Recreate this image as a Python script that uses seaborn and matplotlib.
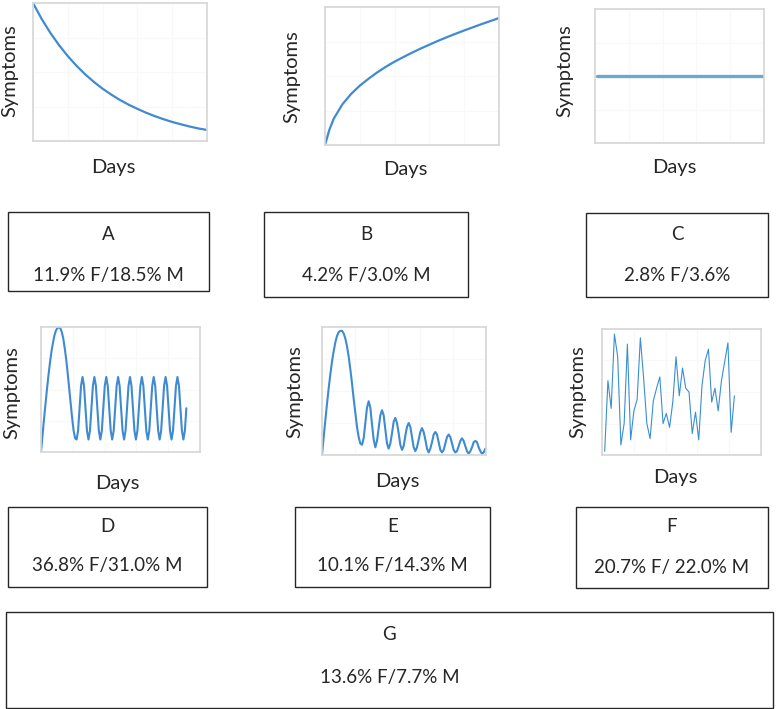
import numpy as np
import matplotlib.pyplot as plt
import seaborn as sns
from matplotlib.patches import Rectangle

W, H = 778, 709

# symptom curves, scaled 0..1 inside its frame
a_days = list(range(21))
a_symptoms = [1.000, 0.884, 0.783, 0.694, 0.615, 0.545, 0.483, 0.428, 0.379, 0.336, 0.297,
              0.263, 0.233, 0.205, 0.180, 0.158, 0.138, 0.121, 0.105, 0.091, 0.080]

b_days = [0, 0.5] + list(range(1, 21))
b_symptoms = [0.000, 0.110, 0.190, 0.295, 0.370, 0.430, 0.480, 0.526, 0.567, 0.604,
              0.637, 0.669, 0.699, 0.727, 0.755, 0.781, 0.806, 0.830, 0.853, 0.876,
              0.898, 0.920]

c_days = [0.012, 1.0]
c_symptoms = [0.50, 0.50]

d_days = list(range(99))
d_symptoms = [0.00, 0.13, 0.26, 0.38, 0.50, 0.61, 0.71, 0.80, 0.87, 0.93, 0.97, 0.99, 1.00,
              0.99, 0.96, 0.91, 0.83, 0.74, 0.63, 0.51, 0.39, 0.27, 0.17, 0.11, 0.10,
              0.17, 0.35, 0.53, 0.60, 0.53, 0.35, 0.17, 0.10,
              0.17, 0.35, 0.53, 0.60, 0.53, 0.35, 0.17, 0.10,
              0.17, 0.35, 0.53, 0.60, 0.53, 0.35, 0.17, 0.10,
              0.17, 0.35, 0.53, 0.60, 0.53, 0.35, 0.17, 0.10,
              0.17, 0.35, 0.53, 0.60, 0.53, 0.35, 0.17, 0.10,
              0.17, 0.35, 0.53, 0.60, 0.53, 0.35, 0.17, 0.10,
              0.17, 0.35, 0.53, 0.60, 0.53, 0.35, 0.17, 0.10,
              0.17, 0.35, 0.53, 0.60, 0.53, 0.35, 0.17, 0.10,
              0.17, 0.35, 0.53, 0.60, 0.53, 0.35, 0.17, 0.10,
              0.17, 0.35]

e_days = list(range(99))
e_symptoms = [0.00, 0.14, 0.27, 0.40, 0.52, 0.63, 0.73, 0.81, 0.88, 0.93, 0.96, 0.97, 0.97,
              0.95, 0.91, 0.85, 0.77, 0.67, 0.56, 0.44, 0.33, 0.22, 0.14, 0.09, 0.08,
              0.13, 0.25, 0.37, 0.42, 0.37, 0.24, 0.12, 0.06,
              0.11, 0.21, 0.31, 0.35, 0.31, 0.20, 0.09, 0.05,
              0.09, 0.17, 0.26, 0.29, 0.25, 0.17, 0.08, 0.04,
              0.07, 0.15, 0.22, 0.25, 0.22, 0.14, 0.06, 0.03,
              0.06, 0.12, 0.18, 0.21, 0.18, 0.12, 0.05, 0.02,
              0.05, 0.10, 0.16, 0.18, 0.16, 0.10, 0.04, 0.02,
              0.04, 0.09, 0.14, 0.16, 0.14, 0.09, 0.04, 0.02,
              0.03, 0.07, 0.11, 0.13, 0.11, 0.07, 0.03, 0.01,
              0.03, 0.06, 0.10, 0.11, 0.10, 0.06, 0.03, 0.01,
              0.02, 0.05]

f_days = list(range(41))
f_symptoms = [0.03, 0.59, 0.37, 0.96, 0.78, 0.08, 0.25, 0.88, 0.12, 0.35, 0.44,
              0.93, 0.61, 0.25, 0.13, 0.43, 0.53, 0.62, 0.25, 0.33, 0.22,
              0.42, 0.78, 0.47, 0.69, 0.53, 0.50, 0.17, 0.34, 0.12, 0.55,
              0.75, 0.84, 0.42, 0.53, 0.35, 0.59, 0.74, 0.89, 0.18, 0.47]

groups = ["A", "B", "C", "D", "E", "F", "G"]
rates = ["11.9% F/18.5% M", "4.2% F/3.0% M", "2.8% F/3.6%", "36.8% F/31.0% M",
         "10.1% F/14.3% M", "20.7% F/ 22.0% M", "13.6% F/7.7% M"]

sns.set_style("white")
plt.rcParams['font.family'] = ['Lato', 'DejaVu Sans']

fig = plt.figure(figsize=(W / 100, H / 100), dpi=100)


def px_axes(l, t, r, b):
    return fig.add_axes([l / W, 1 - b / H, (r - l) / W, (b - t) / H])


panels = [
    # frame in px, x, y, xlim, colour, width, ylabel centre, xlabel centre
    ((33, 3, 207, 141), a_days, a_symptoms, (0, 20), "#3f8bd2", 1.6, (10, 71), (113, 168)),
    ((325, 7, 499, 145), b_days, b_symptoms, (0, 20), "#3f8bd2", 1.6, (292, 77), (405, 170)),
    ((595, 9, 764, 143), c_days, c_symptoms, (0, 1), "#6fa9c9", 2.4, (565, 71), (674, 168)),
    ((41, 327, 200, 452), d_days, d_symptoms, (0, 107.2), "#3f8bd2", 1.5, (12, 393), (117, 484)),
    ((322, 327, 486, 455), e_days, e_symptoms, (0, 98.4), "#3f8bd2", 1.5, (295, 392), (397, 482)),
    ((602, 329, 761, 455), f_days, f_symptoms, (-0.83, 48.2), "#3a8fcf", 0.8, (578, 392), (675, 478)),
]

for frame, x, y, xlim, col, lw, ylab, xlab in panels:
    ax = px_axes(*frame)
    sns.lineplot(x=x, y=y, ax=ax, color=col, linewidth=lw)
    ax.set_xlim(*xlim)
    ax.set_ylim(0, 1)
    ax.set_xticks(np.linspace(xlim[0], xlim[1], 6)[1:-1])
    ax.set_yticks([0.25, 0.5, 0.75])
    ax.grid(True, color="#f8f8f8", linewidth=0.8)
    ax.tick_params(length=0, labelbottom=False, labelleft=False)
    ax.set_xlabel("")
    ax.set_ylabel("")
    for sp in ax.spines.values():
        sp.set_color("#d6d6d6")
        sp.set_linewidth(1.2)

# overlay in pixel units for labels and boxes
ov = fig.add_axes([0, 0, 1, 1])
ov.set_xlim(0, W)
ov.set_ylim(H, 0)
ov.axis("off")

for frame, x, y, xlim, col, lw, ylab, xlab in panels:
    ov.text(ylab[0], ylab[1], "Symptoms", rotation=90, ha="center", va="center", fontsize=14.5)
    ov.text(xlab[0], xlab[1], "Days", ha="center", va="center", fontsize=14.5)

boxes = [(8, 212, 209, 291), (264, 212, 468, 297), (586, 213, 768, 297),
         (8, 507, 207, 587), (295, 507, 490, 587), (576, 507, 768, 588),
         (6, 612, 773, 708)]
letter_y = [234, 234, 235, 527, 526, 527, 635]
rate_y = [276, 276, 276, 566, 566, 567, 678]

for (l, t, r, b), g, s, ly, ry in zip(boxes, groups, rates, letter_y, rate_y):
    ov.add_patch(Rectangle((l, t), r - l, b - t, fill=False, ec="#262626", lw=1.0))
    cx = (l + r) / 2
    ov.text(cx, ly, g, ha="center", va="center", fontsize=13.5)
    ov.text(cx, ry, s, ha="center", va="center", fontsize=13.5)

fig.savefig("out.png", dpi=100)
